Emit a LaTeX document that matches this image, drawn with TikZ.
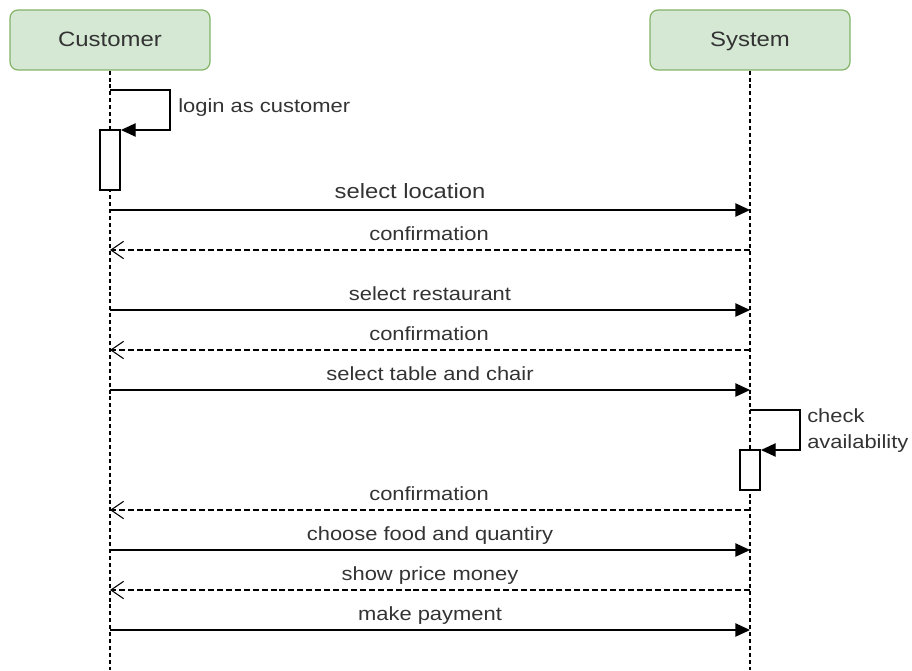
\documentclass[tikz,border=0pt]{standalone}
\usepackage{fontspec}
\newfontfamily\labfont[FakeStretch=1.15]{Liberation Sans}
\usetikzlibrary{arrows.meta}
\definecolor{hdrfill}{HTML}{D5E8D4}
\definecolor{hdrline}{HTML}{82B366}
\definecolor{txt}{HTML}{333333}
\tikzset{
  header/.style={draw=hdrline, fill=hdrfill, line width=0.9pt, rounded corners=6pt,
    minimum width=150pt, minimum height=45pt, inner sep=0pt, text height=0.92em, text depth=0pt,
    font=\labfont\fontsize{15.6}{18}\selectfont, text=txt},
  lifeline/.style={line width=1pt, dash pattern=on 3pt off 2.2pt},
  actbox/.style={draw, fill=white, line width=0.9pt, minimum width=15pt, inner sep=0pt},
  msg/.style={line width=1pt, -{Triangle[length=11pt,width=10pt]}},
  ret/.style={line width=0.8pt, dash pattern=on 4.5pt off 2.2pt, -{Straight Barb[length=9.5pt,width=13pt,line width=0.8pt]}},
  lbl/.style={font=\labfont\fontsize{14.3}{16}\selectfont, text=txt, inner sep=0pt, anchor=base},
  biglbl/.style={font=\labfont\fontsize{15.5}{18}\selectfont, text=txt, inner sep=0pt, anchor=base},
}
\begin{document}
\begin{tikzpicture}[x=0.75pt, y=-0.75pt]
\useasboundingbox (0,0) rectangle (912,670);
% headers
\node[header] (cust) at (110,40) {Customer};
\node[header] (sys) at (750,40) {System};
% lifeline ends
\coordinate (cend) at (110,670);
\coordinate (send) at (750,670);
\draw[lifeline] (cust.south) -- (cend);
\draw[lifeline] (sys.south) -- (send);
% login self message
\coordinate (l1) at (110,90);
\coordinate (l2) at (170,90);
\coordinate (l3) at (170,130);
\coordinate (l4) at (121,130);
\node[actbox, minimum height=45pt] (act1) at (110,160) {};
\draw[line width=1pt, -{Triangle[length=11pt,width=10pt]}] (l1) -- (l2) -- (l3) -- (l4);
\node[lbl, anchor=base west] (tl) at (178,113) {login as customer};
% message coordinates
\foreach \n/\y in {1/210,2/250,3/310,4/350,5/390,6/510,7/550,8/590,9/630}{
  \coordinate (c\n) at (110,\y);
  \coordinate (s\n) at (750,\y);
}
\draw[msg] (c1) -- (s1);
\node[biglbl] (t1) at (410,199) {select location};
\draw[ret] (s2) -- (c2);
\node[lbl] (t2) at (429,240) {confirmation};
\draw[msg] (c3) -- (s3);
\node[lbl] (t3) at (430,300) {select restaurant};
\draw[ret] (s4) -- (c4);
\node[lbl] (t4) at (429,340) {confirmation};
\draw[msg] (c5) -- (s5);
\node[lbl] (t5) at (430,380) {select table and chair};
% check availability self message
\coordinate (k1) at (750,410);
\coordinate (k2) at (800,410);
\coordinate (k3) at (800,450);
\coordinate (k4) at (761,450);
\node[actbox, minimum height=30pt] (act2) at (750,470) {};
\draw[line width=1pt, -{Triangle[length=11pt,width=10pt]}] (k1) -- (k2) -- (k3) -- (k4);
\node[lbl, anchor=base west] (tk1) at (807,422) {check};
\node[lbl, anchor=base west] (tk2) at (807,448) {availability};
\draw[ret] (s6) -- (c6);
\node[lbl] (t6) at (429,500) {confirmation};
\draw[msg] (c7) -- (s7);
\node[lbl] (t7) at (430,540) {choose food and quantiry};
\draw[ret] (s8) -- (c8);
\node[lbl] (t8) at (430,580) {show price money};
\draw[msg] (c9) -- (s9);
\node[lbl] (t9) at (430,620) {make payment};
\end{tikzpicture}
\end{document}
